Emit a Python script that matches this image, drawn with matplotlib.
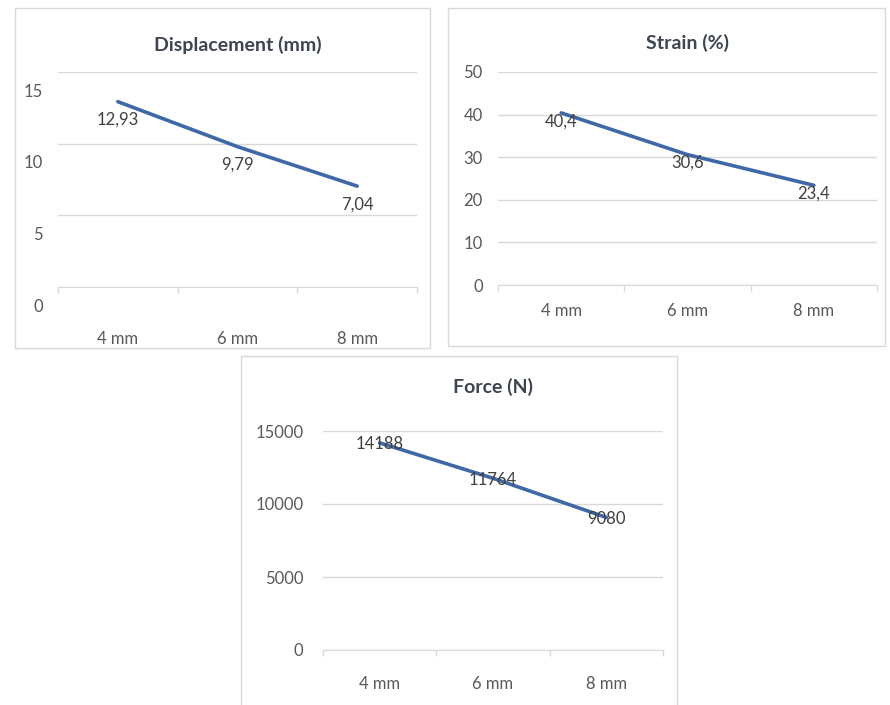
import matplotlib.pyplot as plt
import matplotlib.transforms as mtransforms
from matplotlib.patches import Rectangle

plt.rcParams['font.family'] = ['Lato', 'DejaVu Sans']

categories = ['4 mm', '6 mm', '8 mm']
displacement = [12.93, 9.79, 7.04]
strain = [40.4, 30.6, 23.4]
force = [14188, 11764, 9080]

displacement_ticks = [0, 5, 10, 15]
strain_ticks = [0, 10, 20, 30, 40, 50]
force_ticks = [0, 5000, 10000, 15000]

W, H = 890, 705
LINE = '#3e68a8'
GRID = '#d9d9d9'
TEXT = '#595959'
LABEL = '#404040'


def px_rect(x0, y0, x1, y1):
    # pixel box (top-left origin) -> figure fraction rect
    return [x0 / W, 1 - y1 / H, (x1 - x0) / W, (y1 - y0) / H]


def frame(fig, x0, y0, x1, y1):
    r = px_rect(x0, y0, x1, y1)
    fig.patches.append(Rectangle((r[0], r[1]), r[2], r[3], transform=fig.transFigure,
                                 fill=False, edgecolor=GRID, linewidth=1.0))


def panel(fig, box, title, title_y, values, yticks, fmt, label_dy, xpad, ypad, ylab_dy=0):
    ax = fig.add_axes(px_rect(*box))
    x = list(range(len(categories)))
    ax.plot(x, values, color=LINE, linewidth=2.6, solid_capstyle='round')
    for xi, v in zip(x, values):
        ax.annotate(fmt(v), (xi, v), xytext=(0, label_dy), textcoords='offset points',
                    ha='center', va='center', fontsize=12, color=LABEL)
    ax.set_xlim(-0.5, len(categories) - 0.5)
    ax.set_ylim(yticks[0], yticks[-1])
    ax.set_yticks(yticks)
    ax.set_yticklabels([str(t) for t in yticks])
    ax.grid(axis='y', color=GRID, linewidth=1.0)
    ax.set_axisbelow(True)
    ax.set_xticks(x)
    ax.set_xticklabels(categories)
    ax.set_xticks([i - 0.5 for i in range(len(categories) + 1)], minor=True)
    ax.tick_params(axis='x', which='major', length=0, pad=xpad, labelsize=12, labelcolor=TEXT)
    ax.tick_params(axis='x', which='minor', length=4, color=GRID, width=1)
    ax.tick_params(axis='y', length=0, pad=ypad, labelsize=12, labelcolor=TEXT)
    for s in ('top', 'right', 'left'):
        ax.spines[s].set_visible(False)
    ax.spines['bottom'].set_color(GRID)
    if ylab_dy:
        shift = mtransforms.ScaledTranslation(0, -ylab_dy / 72, fig.dpi_scale_trans)
        for lab in ax.get_yticklabels():
            lab.set_transform(lab.get_transform() + shift)
    cx = (box[0] + box[2]) / 2 / W
    fig.text(cx, 1 - title_y / H, title, ha='center', va='center', fontsize=14,
             fontweight='bold', color='#3d4452')
    return ax


def comma(v, nd):
    return f'{v:.{nd}f}'.replace('.', ',')


fig = plt.figure(figsize=(W / 100, H / 100), dpi=100)

frame(fig, 15, 8, 430, 348)
frame(fig, 448, 8, 885, 346)
frame(fig, 241, 356, 677, 712)

panel(fig, (58, 72, 417, 287), 'Displacement (mm)', 45, displacement, displacement_ticks,
      lambda v: comma(v, 2), -13, 32, 11, ylab_dy=13)
panel(fig, (498, 72, 877, 285), 'Strain (%)', 43, strain, strain_ticks,
      lambda v: comma(v, 1), -6, 13, 11)
panel(fig, (323, 431, 663, 650), 'Force (N)', 387, force, force_ticks,
      lambda v: str(v), -1, 19, 14)

fig.savefig('out.png', dpi=100, facecolor='white')
